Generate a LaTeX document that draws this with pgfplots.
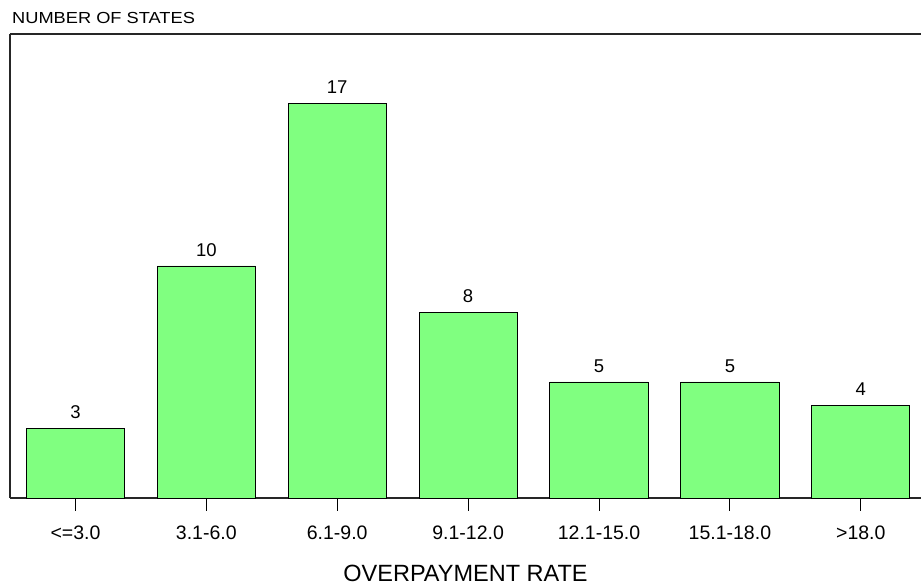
\documentclass[border=0pt]{standalone}
\usepackage{fontspec}
\setmainfont{Liberation Sans}
\usepackage{graphicx}
\usepackage{pgfplots}
\pgfplotsset{compat=1.18}
\definecolor{barfill}{HTML}{80FF80}
\begin{document}
\begin{tikzpicture}
\begin{axis}[
  scale only axis,
  width=911pt, height=464pt,
  xmin=-0.5, xmax=6.46,
  ymin=0, ymax=20,
  axis x line*=box,
  axis y line*=left,
  axis line style={line width=1.2pt, color=black!85},
  ytick=\empty,
  xtick={0,1,2,3,4,5,6},
  xticklabels={{<=3.0},{3.1-6.0},{6.1-9.0},{9.1-12.0},{12.1-15.0},{15.1-18.0},{>18.0}},
  xtick pos=bottom,
  tick align=outside,
  major tick length=13pt,
  every tick/.style={black, line width=1pt},
  xticklabel style={font=\fontsize{19.5}{21}\selectfont, yshift=-11pt},
  /pgf/number format/assume math mode=true,
  ybar,
  bar width=0.75,
  nodes near coords,
  every node near coord/.append style={font=\fontsize{18.5}{20}\selectfont, yshift=6pt},
  clip=false,
]
\addplot[fill=barfill, draw=black, line width=0.9pt] coordinates {
  (0,3) (1,10) (2,17) (3,8) (4,5) (5,5) (6,4)
};
\node[anchor=base west, font=\fontsize{16}{18}\selectfont, inner sep=0pt]
  at (rel axis cs:0,1) [xshift=2pt, yshift=10pt] {\scalebox{1.14}[1]{NUMBER OF STATES}};
\node[anchor=base, font=\fontsize{23.5}{26}\selectfont, inner sep=0pt]
  at (rel axis cs:0.5,0) [yshift=-84pt] {OVERPAYMENT RATE};
\coordinate (sw) at (rel axis cs:0,0);
\coordinate (ne) at (rel axis cs:1,1);
\end{axis}
\pgfresetboundingbox
\path ([xshift=-10pt,yshift=-90pt]sw) rectangle ([yshift=34pt]ne);
\end{tikzpicture}
\end{document}
